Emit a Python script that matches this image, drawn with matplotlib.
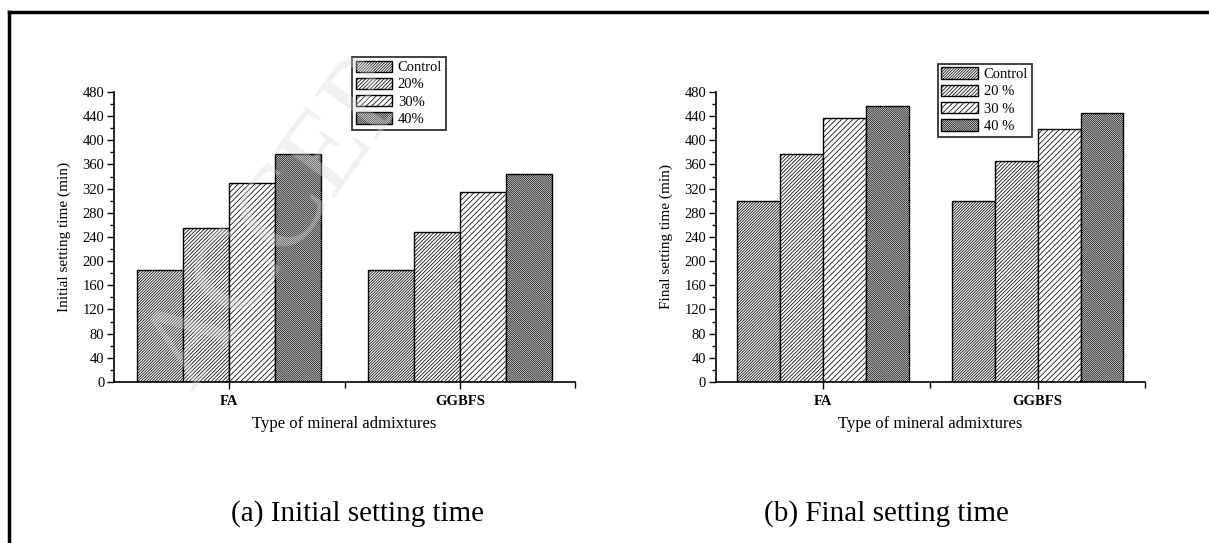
import numpy as np
import matplotlib
matplotlib.use("Agg")
import matplotlib.pyplot as plt
from matplotlib.lines import Line2D
from matplotlib.ticker import MultipleLocator, FixedLocator

plt.rcParams["font.family"] = ["Liberation Serif", "DejaVu Serif"]
plt.rcParams["hatch.linewidth"] = 0.55

# dados
grupos = ["FA", "GGBFS"]
legenda_a = ["Control", "20%", "30%", "40%"]
legenda_b = ["Control", "20 %", "30 %", "40 %"]
inicial_fa = [185, 255, 330, 378]
inicial_ggbfs = [185, 248, 314, 345]
final_fa = [300, 378, 437, 456]
final_ggbfs = [300, 366, 419, 445]

hachuras = ["/" * 12, "/" * 9, "/" * 6, "\\" * 16]

fig = plt.figure(figsize=(12.09, 5.43), dpi=100)

ax1 = fig.add_axes([0.0943, 0.2965, 0.3813, 0.5341])
ax2 = fig.add_axes([0.5922, 0.2965, 0.3548, 0.5341])


def desenhar(ax, fa, ggbfs, nomes, ylabel, leg_pos):
    x = np.arange(1, len(grupos) + 1)
    largura = 0.2
    valores = np.array([fa, ggbfs]).T
    for i in range(4):
        ax.bar(x - 0.3 + i * largura, valores[i], largura,
               color="white", edgecolor="black", linewidth=1.0,
               hatch=hachuras[i], label=nomes[i], zorder=2)
    ax.set_xlim(0.5, 2.5)
    ax.set_ylim(0, 480)
    ax.spines["top"].set_visible(False)
    ax.spines["right"].set_visible(False)
    ax.spines["left"].set_linewidth(1.2)
    ax.spines["bottom"].set_linewidth(1.2)
    ax.yaxis.set_major_locator(MultipleLocator(40))
    ax.yaxis.set_minor_locator(MultipleLocator(20))
    ax.xaxis.set_major_locator(FixedLocator(x))
    ax.xaxis.set_minor_locator(FixedLocator([1.5, 2.5]))
    ax.set_xticklabels(grupos, fontweight="bold", fontsize=10.5)
    ax.tick_params(axis="y", which="major", length=5, width=1, labelsize=10.5, pad=2)
    ax.tick_params(axis="y", which="minor", length=3, width=1)
    ax.tick_params(axis="x", which="major", length=5, width=1, pad=4)
    ax.tick_params(axis="x", which="minor", length=4, width=1)
    ax.set_ylabel(ylabel, fontsize=11, labelpad=8)
    ax.set_xlabel("Type of mineral admixtures", fontsize=12, labelpad=6)
    leg = ax.legend(loc="upper left", bbox_to_anchor=leg_pos, frameon=True,
                    fancybox=False, edgecolor="black",
                    prop={"size": 10.5},
                    handlelength=2.5, handleheight=0.8, labelspacing=0.25,
                    borderpad=0.25, handletextpad=0.4, borderaxespad=0)
    leg.get_frame().set_linewidth(1.3)


desenhar(ax1, inicial_fa, inicial_ggbfs, legenda_a,
         "Initial setting time (min)", (0.516, 1.121))
desenhar(ax2, final_fa, final_ggbfs, legenda_b,
         "Final setting time (min)", (0.517, 1.097))

fig.text(0.296, 0.055, "(a) Initial setting time", ha="center", va="center",
         fontsize=21)
fig.text(0.733, 0.055, "(b) Final setting time", ha="center", va="center",
         fontsize=21)

# marca d'agua
fig.text(0.105, 0.25, "ACCEP", rotation=54, fontsize=84,
         color="#d6d6d6", alpha=0.35, ha="left", va="bottom", zorder=10)

# moldura
fig.add_artist(Line2D([0.0074, 1.0], [0.978, 0.978], color="black",
                      linewidth=2.5, transform=fig.transFigure))
fig.add_artist(Line2D([0.0074, 0.0074], [0.0, 0.978], color="black",
                      linewidth=2.5, transform=fig.transFigure))

fig.savefig("out.png", dpi=100)
